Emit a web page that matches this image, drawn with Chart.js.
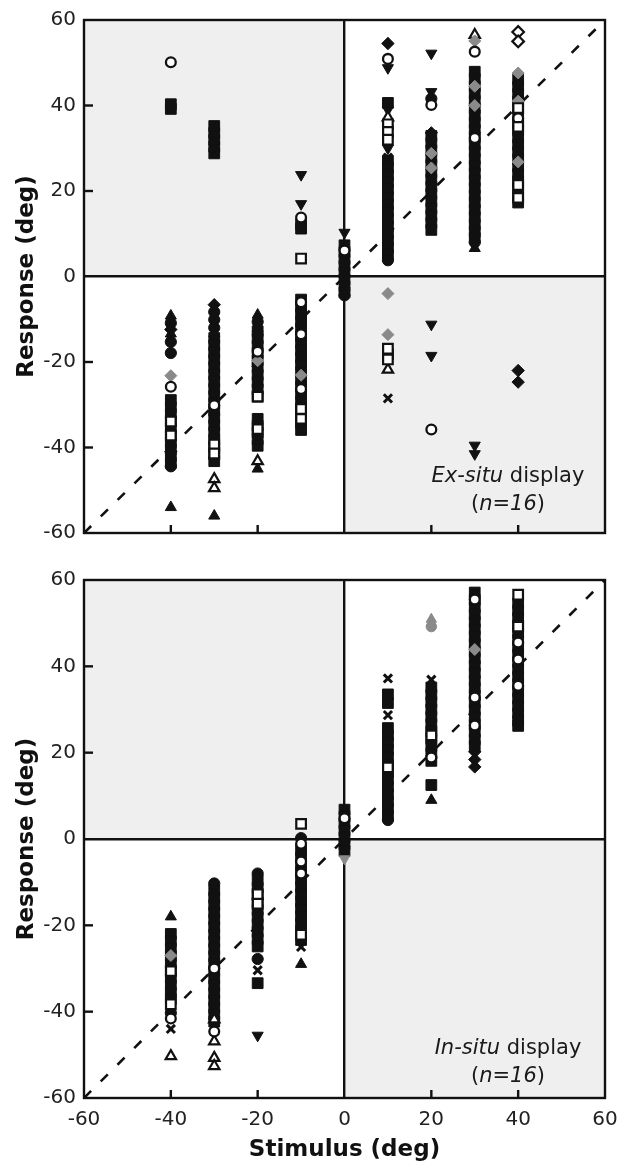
<!DOCTYPE html>
<html><head><meta charset="utf-8">
<script src="https://cdn.jsdelivr.net/npm/chart.js@4.4.1/dist/chart.umd.min.js"></script>
<style>
html,body{margin:0;padding:0;background:#fff;}
#wrap{position:relative;width:635px;height:1171px;overflow:hidden;}
canvas{position:absolute;left:0;}
</style></head><body>
<div id="wrap">
<canvas id="cTop" width="635" height="560" style="top:0;width:635px;height:560px"></canvas>
<canvas id="cBot" width="635" height="611" style="top:560px;width:635px;height:611px"></canvas>
</div>
<script>
// ---------------- DATA ----------------
const axisMin = -60, axisMax = 60, axisStep = 20;
const innerTicks = [-40, -20, 20, 40];
const diagonal = [[-60, -60], [60, 60]];
const xTitle = 'Stimulus (deg)';
const yTitle = 'Response (deg)';
const exLabel1 = [['Ex-situ', true], [' display', false]];
const inLabel1 = [['In-situ', true], [' display', false]];
const nLabel = [['(', false], ['n=16', true], [')', false]];

// Ex-situ panel (stimulus, response)
const exFilledSquare = [
 [-40,39.2],[-40,40.3],
 [-40,-28.9],[-40,-30.6],[-40,-32.2],[-40,-33.9],[-40,-35.5],[-40,-37.2],[-40,-38.8],[-40,-40.4],[-40,-42.0],[-40,-43.6],
 [-30,28.8],[-30,30.4],[-30,32.0],[-30,33.6],[-30,35.2],
 [-30,-14.4],[-30,-16.1],[-30,-17.8],[-30,-19.5],[-30,-21.2],[-30,-22.9],[-30,-24.6],[-30,-26.3],[-30,-28.0],[-30,-29.7],[-30,-31.4],[-30,-33.1],[-30,-34.8],[-30,-36.5],[-30,-38.2],[-30,-39.9],[-30,-41.6],[-30,-43.2],
 [-20,-12.8],[-20,-14.5],[-20,-16.2],[-20,-17.9],[-20,-19.6],[-20,-21.3],[-20,-23.0],[-20,-24.7],[-20,-26.4],[-20,-28.1],
 [-20,-33.3],[-20,-34.9],[-20,-36.5],[-20,-38.1],[-20,-39.6],
 [-10,12.2],[-10,11.2],
 [-10,-5.4],[-10,-7.1],[-10,-8.8],[-10,-10.5],[-10,-12.2],[-10,-13.9],[-10,-15.6],[-10,-17.3],[-10,-19.0],[-10,-20.7],[-10,-22.4],[-10,-24.1],[-10,-25.8],[-10,-27.5],[-10,-29.2],[-10,-30.9],[-10,-32.6],[-10,-34.3],[-10,-35.9],
 [0,7.3],[0,5.7],[0,4.1],[0,2.5],[0,0.9],[0,-0.7],[0,-2.3],[0,-3.7],
 [10,40.6],
 [10,27.1],[10,25.4],[10,23.7],[10,22.0],[10,20.3],[10,18.6],[10,16.9],[10,15.2],[10,13.5],[10,11.8],[10,10.1],[10,8.4],[10,6.7],[10,5.1],
 [10,-18.2],
 [20,32.9],[20,31.2],[20,29.5],[20,27.8],[20,26.1],[20,24.4],[20,22.7],[20,21.0],[20,19.3],[20,17.6],[20,15.9],[20,14.2],[20,12.5],[20,10.9],
 [30,47.9],[30,46.2],[30,44.5],[30,42.8],[30,41.1],[30,39.4],[30,37.7],[30,36.0],[30,34.3],[30,32.6],[30,30.9],[30,29.2],[30,27.5],[30,25.8],[30,24.1],[30,22.4],[30,20.7],[30,19.0],[30,17.3],[30,15.6],[30,13.9],[30,12.2],[30,10.5],[30,9.0],
 [40,46.1],[40,44.4],[40,42.7],[40,41.0],[40,39.3],[40,37.6],[40,35.9],[40,34.2],[40,32.5],[40,30.8],[40,29.1],[40,27.4],[40,25.7],[40,24.0],[40,22.3],[40,20.6],[40,18.9],[40,17.3]
];
const exOpenSquare = [[-40,-33.9],[-40,-37.2],[-30,-39.3],[-30,-41.4],[-20,-28.1],[-20,-35.7],[-10,4.2],[-10,-31.0],[-10,-33.3],[10,35.6],[10,33.8],[10,32.0],[10,-16.9],[10,-19.4],[40,39.4],[40,35.0],[40,21.4],[40,18.4]];
const exOpenCircle = [[-40,50.1],[-40,-25.8],[-30,-30.1],[-20,-17.6],[-10,13.8],[-10,-6.0],[-10,-13.5],[-10,-26.3],[0,6.1],[10,50.9],[20,40.1],[20,-35.8],[30,52.6],[30,32.4],[40,37.0]];
const exGrayDiamond = [[-40,-23.2],[-20,-19.7],[-10,-23.1],[10,-4.0],[10,-13.6],[20,28.8],[20,25.4],[30,55.1],[30,44.5],[30,40.0],[40,47.6],[40,41.0],[40,26.8]];
const exOpenDiamond = [[40,57.2],[40,55.0]];
const exFilledDiamond = [[-40,-12.4],[-40,-41.0],[-30,-6.6],[10,54.5],[20,33.6],[40,-22.0],[40,-24.7]];
const exFilledCircle = [[-40,-10.9],[-40,-15.3],[-40,-17.9],[-40,-44.4],[-30,-8.3],[-30,-10.1],[-30,-12.0],[-20,-10.6],[0,-4.4],[10,3.8],[20,41.6],[30,8.0]];
const exTriUp = [[-40,-9.2],[-40,-13.4],[-40,-54.0],[-30,-13.3],[-30,-56.0],[-20,-9.0],[-20,-12.1],[-20,-45.0],[30,6.6]];
const exOpenTriUp = [[-30,-47.4],[-30,-49.5],[-20,-43.2],[10,37.2],[10,-21.8],[30,56.5]];
const exTriDown = [[-10,23.8],[-10,17.0],[0,10.3],[10,48.8],[10,39.0],[10,30.0],[20,52.2],[20,43.2],[20,-11.2],[20,-18.5],[30,-39.5],[30,-41.5]];
const exCross = [[10,27.8],[10,-28.5]];

// In-situ panel (stimulus, response)
const inFilledSquare = [
 [-40,-22.0],[-40,-23.7],[-40,-25.4],[-40,-27.1],[-40,-28.8],[-40,-30.5],[-40,-32.2],[-40,-33.9],[-40,-35.6],[-40,-37.1],
 [-30,-11.9],[-30,-13.6],[-30,-15.3],[-30,-17.0],[-30,-18.7],[-30,-20.4],[-30,-22.1],[-30,-23.8],[-30,-25.5],[-30,-27.2],[-30,-28.9],[-30,-30.6],[-30,-32.3],[-30,-34.0],[-30,-35.7],[-30,-37.4],[-30,-39.1],[-30,-40.7],[-30,-42.3],
 [-20,-9.6],[-20,-11.3],[-20,-13.0],[-20,-14.7],[-20,-16.4],[-20,-18.1],[-20,-19.8],[-20,-21.5],[-20,-23.2],[-20,-24.9],[-20,-33.4],
 [-10,-2.6],[-10,-4.3],[-10,-6.0],[-10,-7.7],[-10,-9.4],[-10,-11.1],[-10,-12.8],[-10,-14.5],[-10,-16.2],[-10,-17.9],[-10,-19.6],[-10,-21.3],[-10,-23.4],
 [0,6.8],[0,5.2],[0,3.6],[0,2.0],[0,0.4],[0,-1.2],[0,-2.8],
 [10,33.5],[10,31.5],[10,25.7],[10,24.0],[10,22.3],[10,20.6],[10,18.9],[10,17.2],[10,15.5],[10,13.8],[10,12.1],[10,10.4],[10,8.7],[10,7.0],[10,5.4],
 [20,35.1],[20,33.4],[20,31.7],[20,30.0],[20,28.3],[20,26.6],[20,24.9],[20,23.2],[20,21.5],[20,19.8],[20,18.1],[20,12.5],
 [30,57.1],[30,55.4],[30,53.7],[30,52.0],[30,50.3],[30,48.6],[30,46.9],[30,45.2],[30,43.5],[30,41.8],[30,40.1],[30,38.4],[30,36.7],[30,35.0],[30,33.3],[30,31.6],[30,29.9],[30,28.2],[30,26.5],[30,24.8],[30,23.1],[30,21.5],
 [40,54.6],[40,52.9],[40,51.2],[40,49.5],[40,47.8],[40,46.1],[40,44.4],[40,42.7],[40,41.0],[40,39.3],[40,37.6],[40,35.9],[40,34.2],[40,32.5],[40,30.8],[40,29.1],[40,27.4],[40,26.2]
];
const inOpenSquare = [[-10,3.5],[-10,-22.2],[-20,-12.8],[-20,-15.0],[-40,-38.3],[-40,-30.6],[10,16.6],[20,24.0],[40,56.6],[40,49.2]];
const inOpenCircle = [[-10,-1.1],[-10,-5.2],[-10,-8.0],[-30,-30.0],[-30,-44.6],[-40,-41.6],[0,4.8],[20,18.9],[30,55.5],[30,32.8],[30,26.3],[40,45.5],[40,41.6],[40,35.5]];
const inGrayDiamond = [[-40,-27.0],[30,43.9]];
const inGrayCircle = [[20,49.2]];
const inGrayTriUp = [[20,50.9]];
const inGrayTriDown = [[0,-4.6]];
const inFilledCircle = [[-20,-8.0],[-20,-27.8],[-30,-10.3],[-10,0.2],[10,4.4],[-40,-40.3]];
const inFilledDiamond = [[30,20.2],[30,18.4],[30,16.7]];
const inTriUp = [[-40,-18.0],[20,9.0],[-10,-29.0]];
const inOpenTriUp = [[-30,-41.8],[-30,-46.9],[-30,-50.7],[-30,-52.6],[-40,-50.3]];
const inTriDown = [[-20,-45.5]];
const inCross = [[10,37.2],[10,28.7],[20,36.9],[-10,-25.0],[-20,-30.4],[-40,-44.0]];

// ---------------- STYLES ----------------
const INK = '#111', GRAY = '#8a8a8a', SHADE = '#efefef';
const FONT = '"DejaVu Sans", "Liberation Sans", sans-serif';
const MARK = {
  filledSquare:  {ps:'rect', r:7.6, fill:INK, line:INK, w:1, rot:0, order:5},
  openSquare:    {ps:'rect', r:6.8, fill:'#fff', line:INK, w:2.2, rot:0, order:1},
  filledDiamond: {ps:'rectRot', r:6.2, fill:INK, line:INK, w:1, rot:0, order:3},
  openDiamond:   {ps:'rectRot', r:5.8, fill:'#fff', line:INK, w:2.2, rot:0, order:1},
  grayDiamond:   {ps:'rectRot', r:6.0, fill:GRAY, line:GRAY, w:1, rot:0, order:1},
  openCircle:    {ps:'circle', r:4.9, fill:'#fff', line:INK, w:2.3, rot:0, order:1},
  filledCircle:  {ps:'circle', r:5.6, fill:INK, line:INK, w:1, rot:0, order:3},
  grayCircle:    {ps:'circle', r:5.2, fill:GRAY, line:GRAY, w:1, rot:0, order:1},
  triUp:         {ps:'triangle', r:6.4, fill:INK, line:INK, w:1, rot:0, order:2},
  openTriUp:     {ps:'triangle', r:6.0, fill:'#fff', line:INK, w:2.2, rot:0, order:1},
  grayTriUp:     {ps:'triangle', r:6.0, fill:GRAY, line:GRAY, w:1, rot:0, order:1},
  triDown:       {ps:'triangle', r:6.4, fill:INK, line:INK, w:1, rot:180, order:2},
  grayTriDown:   {ps:'triangle', r:6.0, fill:GRAY, line:GRAY, w:1, rot:180, order:1},
  cross:         {ps:'crossRot', r:5.8, fill:INK, line:INK, w:3, rot:0, order:2}
};

function series(points, key) {
  const m = MARK[key];
  return {
    type: 'scatter', label: key,
    data: points.map(p => ({x: p[0], y: p[1]})),
    pointStyle: m.ps, pointRadius: m.r, pointHoverRadius: m.r,
    pointBackgroundColor: m.fill, pointBorderColor: m.line,
    pointBorderWidth: m.w, pointRotation: m.rot, order: m.order
  };
}
function diagSet() {
  return {
    type: 'line', label: 'diag',
    data: diagonal.map(p => ({x: p[0], y: p[1]})),
    borderColor: INK, borderWidth: 2.6, borderDash: [10, 13.6],
    pointRadius: 0, fill: false, order: 20
  };
}

function drawMixed(ctx, parts, cx, baseline, size) {
  const widths = [];
  let total = 0;
  parts.forEach(([t, it]) => {
    ctx.font = (it ? 'italic ' : '') + size + 'px ' + FONT;
    const w = ctx.measureText(t).width; widths.push(w); total += w;
  });
  let x = cx - total / 2;
  ctx.textAlign = 'left'; ctx.textBaseline = 'alphabetic'; ctx.fillStyle = '#1a1a1a';
  parts.forEach(([t, it], i) => {
    ctx.font = (it ? 'italic ' : '') + size + 'px ' + FONT;
    ctx.fillText(t, x, baseline); x += widths[i];
  });
}

const decor = {
  id: 'decor',
  beforeDraw(chart) {
    const {ctx, chartArea: a, scales: {x, y}} = chart;
    ctx.save();
    ctx.fillStyle = '#fff'; ctx.fillRect(0, 0, chart.width, chart.height);
    const x0 = x.getPixelForValue(0), y0 = y.getPixelForValue(0);
    ctx.fillStyle = SHADE;
    ctx.fillRect(a.left, a.top, x0 - a.left, y0 - a.top);
    ctx.fillRect(x0, y0, a.right - x0, a.bottom - y0);
    ctx.restore();
  },
  afterDatasetsDraw(chart, args, opts) {
    const {ctx, chartArea: a, scales: {x, y}} = chart;
    ctx.save();
    ctx.strokeStyle = INK; ctx.lineWidth = 2.4;
    ctx.strokeRect(a.left, a.top, a.right - a.left, a.bottom - a.top);
    ctx.lineWidth = 2.4;
    innerTicks.forEach(v => {
      const px = x.getPixelForValue(v);
      ctx.beginPath(); ctx.moveTo(px, a.bottom); ctx.lineTo(px, a.bottom - 8); ctx.stroke();
      const py = y.getPixelForValue(v);
      ctx.beginPath(); ctx.moveTo(a.left, py); ctx.lineTo(a.left + 9, py); ctx.stroke();
    });
    drawMixed(ctx, opts.line1, a.right - 97, a.bottom - opts.off1, 21);
    drawMixed(ctx, nLabel, a.right - 97, a.bottom - opts.off2, 21);
    ctx.restore();
  }
};

function makeChart(id, sets, showX, padTop, bottomH, off1, off2, label1) {
  const zeroColor = c => (c.tick && c.tick.value === 0) ? INK : 'rgba(0,0,0,0)';
  return new Chart(document.getElementById(id), {
    type: 'scatter',
    data: {datasets: sets},
    plugins: [decor],
    options: {
      responsive: false, animation: false, devicePixelRatio: 1,
      layout: {padding: {top: padTop, right: 30, bottom: 0, left: 0}},
      plugins: {legend: {display: false}, tooltip: {enabled: false},
                decor: {line1: label1, off1: off1, off2: off2}},
      scales: {
        x: {
          type: 'linear', min: axisMin, max: axisMax,
          ticks: {display: showX, stepSize: axisStep, color: '#222', padding: 10,
                  font: {family: FONT, size: 20}},
          grid: {drawTicks: false, color: zeroColor, lineWidth: 2.4},
          border: {display: false},
          title: {display: showX, text: xTitle, color: INK,
                  font: {family: FONT, size: 23, weight: 'bold'}, padding: {top: 0, bottom: 7}},
          afterFit(s) { s.height = bottomH; }
        },
        y: {
          type: 'linear', min: axisMin, max: axisMax,
          ticks: {stepSize: axisStep, color: '#222', padding: 8,
                  font: {family: FONT, size: 20}},
          grid: {drawTicks: false, color: zeroColor, lineWidth: 2.4},
          border: {display: false},
          title: {display: true, text: yTitle, color: INK,
                  font: {family: FONT, size: 23, weight: 'bold'}, padding: {top: 13, bottom: 0}},
          afterFit(s) { s.width = 84; }
        }
      }
    }
  });
}

const exSets = [
  series(exOpenSquare, 'openSquare'), series(exOpenCircle, 'openCircle'),
  series(exGrayDiamond, 'grayDiamond'), series(exOpenDiamond, 'openDiamond'),
  series(exOpenTriUp, 'openTriUp'), series(exCross, 'cross'),
  series(exTriUp, 'triUp'), series(exTriDown, 'triDown'),
  series(exFilledDiamond, 'filledDiamond'), series(exFilledCircle, 'filledCircle'),
  series(exFilledSquare, 'filledSquare'), diagSet()
];
const inSets = [
  series(inOpenSquare, 'openSquare'), series(inOpenCircle, 'openCircle'),
  series(inGrayDiamond, 'grayDiamond'), series(inGrayCircle, 'grayCircle'),
  series(inGrayTriUp, 'grayTriUp'), series(inGrayTriDown, 'grayTriDown'),
  series(inOpenTriUp, 'openTriUp'), series(inCross, 'cross'),
  series(inTriUp, 'triUp'), series(inTriDown, 'triDown'),
  series(inFilledDiamond, 'filledDiamond'), series(inFilledCircle, 'filledCircle'),
  series(inFilledSquare, 'filledSquare'), diagSet()
];

makeChart('cTop', exSets, false, 13, 27, 51, 23, exLabel1);
makeChart('cBot', inSets, true, 17, 73, 44, 16, inLabel1);
</script>
</body></html>
